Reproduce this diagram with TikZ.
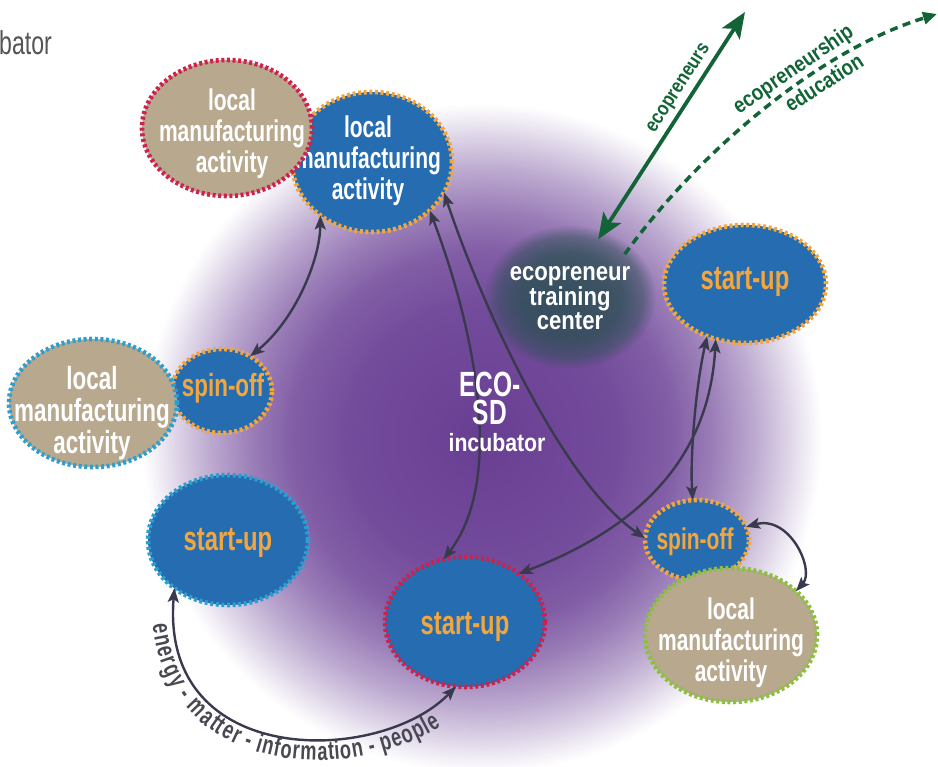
\documentclass[tikz,border=0pt]{standalone}
\usepackage{fontspec}
\usetikzlibrary{shapes.geometric,arrows.meta,decorations.text,fadings}
\newfontfamily\cf[FakeStretch=0.7]{Liberation Sans}
\newfontfamily\cfw[FakeStretch=0.85]{Liberation Sans}
\definecolor{purpD}{RGB}{104,62,146}
\definecolor{purp}{RGB}{116,76,156}
\definecolor{bblue}{RGB}{38,108,176}
\definecolor{tanC}{RGB}{184,168,142}
\definecolor{dorange}{RGB}{242,166,62}
\definecolor{crim}{RGB}{208,32,78}
\definecolor{cyanb}{RGB}{44,158,208}
\definecolor{greenb}{RGB}{140,192,64}
\definecolor{arrowc}{RGB}{58,58,78}
\definecolor{dgreen}{RGB}{18,100,55}
\definecolor{tcteal}{RGB}{42,80,82}
\definecolor{txtg}{RGB}{72,72,82}
\definecolor{titleg}{RGB}{85,85,85}
\pgfdeclareradialshading{bgglow}{\pgfpoint{0bp}{0bp}}{color(0bp)=(purpD); color(10bp)=(purp); color(14bp)=(purp!90!white); color(17bp)=(purp!72!white); color(20bp)=(purp!48!white); color(22.5bp)=(purp!24!white); color(24.2bp)=(purp!7!white); color(25bp)=(white); color(50bp)=(white)}
\pgfdeclareradialshading{tcfadeshade}{\pgfpointorigin}{color(0bp)=(pgftransparent!15); color(15bp)=(pgftransparent!24); color(21bp)=(pgftransparent!52); color(25bp)=(pgftransparent!100); color(50bp)=(pgftransparent!100)}
\pgfdeclarefading{tcfade}{\pgfuseshading{tcfadeshade}}
\begin{document}
\begin{tikzpicture}[x=1pt,y=-1pt,
  blob/.style={shape=ellipse, inner sep=0pt, outer sep=0pt, line width=4.6pt, dash pattern=on 3pt off 2.6pt},
  lma/.style={font=\cf\bfseries\fontsize{30}{31}\selectfont, text=white, align=center, inner sep=0pt},
  sname/.style={font=\cf\bfseries\fontsize{34}{34}\selectfont, text=dorange, inner sep=0pt},
  conn/.style={draw=arrowc, line width=2.4pt, arrows={Stealth[length=14pt,width=11pt,inset=3pt]-Stealth[length=14pt,width=11pt,inset=3pt]}},
  garrow/.style={draw=dgreen, line width=3.8pt, arrows={Stealth[length=26pt,width=21pt,inset=6pt]-Stealth[length=26pt,width=21pt,inset=6pt]}},
  gdash/.style={draw=dgreen, line width=3.5pt, dash pattern=on 8pt off 5.5pt, arrows={-Triangle[length=14pt,width=12pt]}},
  glabel/.style={font=\cfw\bfseries\fontsize{22}{22}\selectfont, text=dgreen, inner sep=0pt},
  whitetxt/.style={text=white, align=center, inner sep=0pt}
]
\useasboundingbox (0,0) rectangle (938,767);
\fill[white] (0,0) rectangle (938,767);
\shade[shading=bgglow] (482,438) ellipse (340pt and 335pt);
\fill[tcteal, path fading=tcfade] (570,297) ellipse (86pt and 72pt);
\node[shape=ellipse, minimum width=150pt, minimum height=124pt, inner sep=0pt] (tcGlow) at (570,297) {};

\node[anchor=base west, inner sep=0pt, font=\cf\fontsize{33}{33}\selectfont, text=titleg] (ttl) at (-1,55) {bator};

% blobs
\node[blob, fill=bblue, draw=dorange, minimum width=160pt, minimum height=140pt] (blueLMA) at (372,162) {};
\node[lma] (blueLMAtxt) at (368,161) {local\\manufacturing\\activity};
\node[blob, fill=tanC, draw=crim, minimum width=170pt, minimum height=136pt] (tanTL) at (227,128) {};
\node[lma] (tanTLtxt) at (232,134) {local\\manufacturing\\activity};

\node[blob, fill=bblue, draw=dorange, minimum width=100pt, minimum height=84pt] (spinL) at (222,391) {};
\node[sname, font=\cf\bfseries\fontsize{32}{32}\selectfont] (spinLtxt) at (223,388) {spin-off};
\node[blob, fill=tanC, draw=cyanb, minimum width=168pt, minimum height=128pt] (tanL) at (93,403) {};
\node[lma, font=\cf\bfseries\fontsize{32}{32}\selectfont] (tanLtxt) at (92,413) {local\\manufacturing\\activity};

\node[blob, fill=bblue, draw=cyanb, minimum width=160pt, minimum height=130pt] (startL) at (228,540) {};
\node[sname] (startLtxt) at (228,543) {start-up};
\node[blob, fill=bblue, draw=crim, minimum width=160pt, minimum height=130pt] (startB) at (465,622) {};
\node[sname] (startBtxt) at (465,627) {start-up};
\node[blob, fill=bblue, draw=dorange, minimum width=162pt, minimum height=118pt] (startR) at (745,284) {};
\node[sname] (startRtxt) at (745,282) {start-up};

\node[blob, fill=bblue, draw=dorange, minimum width=104pt, minimum height=80pt] (spinR) at (697,540) {};
\node[sname, font=\cf\bfseries\fontsize{30}{30}\selectfont] (spinRtxt) at (695,542) {spin-off};
\node[blob, fill=tanC, draw=greenb, minimum width=172pt, minimum height=134pt] (tanR) at (731,635) {};
\node[lma] (tanRtxt) at (731,643) {local\\manufacturing\\activity};

% connectors
\draw[conn] (blueLMA.226) .. controls (320,260) and (295,320) .. (spinL.51);
\draw[conn] (blueLMA.320) .. controls (475,330) and (505,480) .. (startB.109);
\draw[conn] (blueLMA.337) .. controls (480,300) and (560,480) .. (spinR.178);
\draw[conn] (startR.234) .. controls (695,390) and (690,460) .. (spinR.96);
\draw[conn] (startR.242) .. controls (710,440) and (660,520) .. (startB.42);
\draw[conn] (spinR.15) .. controls (790,515) and (815,570) .. (tanR.34);
\draw[conn] (startL.222) .. controls (160,770) and (380,765) .. (startB.262);
\path[decorate, decoration={text along path, raise=-22pt, text align=center, text color=txtg,
  text={|\cf\bfseries\fontsize{26}{26}\selectfont|energy - matter - information - people}}]
  (startL.222) .. controls (160,770) and (380,765) .. (startB.262);

% green arrows
\coordinate (ecoTop) at (745,12);
\draw[garrow] (tcGlow.64) -- (ecoTop) node[pos=0.63, sloped, above=4pt, glabel, font=\cfw\bfseries\fontsize{20}{20}\selectfont] (lblEco) {ecopreneurs};
\coordinate (eduEnd) at (937,14);
\draw[gdash] (tcGlow.38) .. controls (700,150) and (820,50) .. (eduEnd)
  node[pos=0.61, sloped, above=2pt, glabel] (lblShip) {ecopreneurship}
  node[pos=0.655, sloped, below=3pt, glabel] (lblEdu) {education};

% centre texts
\node[whitetxt, font=\cf\bfseries\fontsize{35}{28}\selectfont] (ecoTxt) at (490,398) {ECO-\\SD};
\node[whitetxt, font=\cfw\bfseries\fontsize{25}{25}\selectfont] (incTxt) at (497,443) {incubator};
\node[whitetxt, font=\cfw\bfseries\fontsize{26}{21.5}\selectfont] (tcTxt) at (570,298) {ecopreneur\\training\\center};
\end{tikzpicture}
\end{document}
